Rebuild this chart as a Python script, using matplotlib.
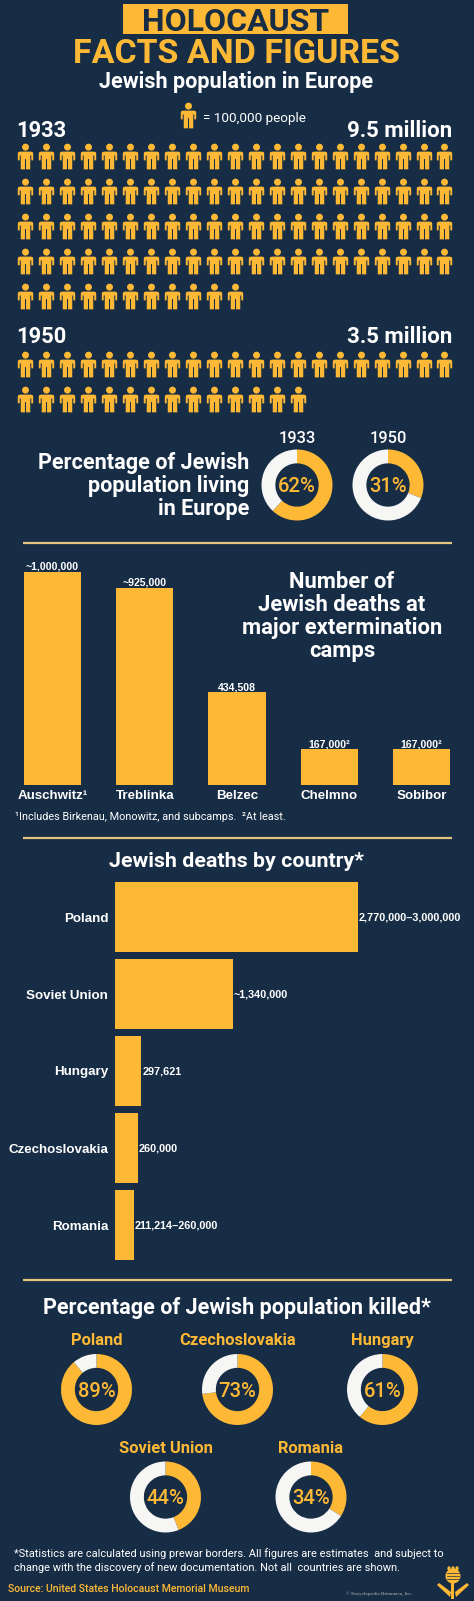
import matplotlib
matplotlib.use('Agg')
import matplotlib.pyplot as plt
from matplotlib.path import Path
from matplotlib.patches import Rectangle, Ellipse, Polygon
import numpy as np

# ---------------- data ----------------
pop_years = ['1933', '1950']
pop_millions = [9.5, 3.5]
pop_labels = ['9.5 million', '3.5 million']
people_per_icon = 100000

share_years = ['1933', '1950']
share_in_europe = [62, 31]

camps = ['Auschwitz¹', 'Treblinka', 'Belzec', 'Chelmno', 'Sobibor']
camp_deaths = [1000000, 925000, 434508, 167000, 167000]
camp_labels = ['~1,000,000', '~925,000', '434,508', '167,000²', '167,000²']

countries = ['Poland', 'Soviet Union', 'Hungary', 'Czechoslovakia', 'Romania']
country_deaths = [2770000, 1340000, 297621, 260000, 211214]
country_labels = ['2,770,000–3,000,000', '~1,340,000', '297,621', '260,000', '211,214–260,000']

killed_countries = ['Poland', 'Czechoslovakia', 'Hungary', 'Soviet Union', 'Romania']
killed_pct = [89, 73, 61, 44, 34]

# ---------------- style ----------------
BG = '#172c45'
YEL = '#fdb935'
WHITE = '#ffffff'
RING_WHITE = '#f6f6f4'
LINE = '#e5c47d'
SANS = ['Roboto', 'DejaVu Sans']
ARIAL = ['Liberation Sans', 'DejaVu Sans']

W, H, DPI = 474, 1601, 100
fig = plt.figure(figsize=(W / DPI, H / DPI), dpi=DPI, facecolor=BG)
ax = fig.add_axes([0, 0, 1, 1])
ax.set_xlim(0, W)
ax.set_ylim(H, 0)
ax.axis('off')


def px_axes(x, y, w, h):
    a = fig.add_axes([x / W, 1 - (y + h) / H, w / W, h / H])
    a.patch.set_alpha(0)
    return a


def txt(x, y, s, size, color=WHITE, weight='bold', ha='center', family=SANS, **kw):
    ax.text(x, y, s, fontsize=size, color=color, fontweight=weight, ha=ha,
            va='baseline', family=family, **kw)


# ---------------- title ----------------
ax.add_patch(Rectangle((123, 4), 225, 29.5, color=YEL, lw=0))
txt(236, 31, 'HOLOCAUST', 23, color=BG)
txt(236.5, 63, 'FACTS AND FIGURES', 24.5, color=YEL)
txt(236.5, 88, 'Jewish population in Europe', 15.6)

# ---------------- person icons ----------------
def person_path():
    head = Path.circle((0, 0.73), 0.27)
    body = [(-0.42, 0.38), (0.42, 0.38), (0.56, 0.34), (0.6, 0.24), (0.6, -0.3),
            (0.45, -0.3), (0.45, 0.08), (0.37, 0.08), (0.37, -1.0), (0.04, -1.0),
            (0.04, -0.2), (-0.04, -0.2), (-0.04, -1.0), (-0.37, -1.0), (-0.37, 0.08),
            (-0.45, 0.08), (-0.45, -0.3), (-0.6, -0.3), (-0.6, 0.24), (-0.56, 0.34),
            (-0.42, 0.38)]
    codes = [Path.MOVETO] + [Path.LINETO] * (len(body) - 2) + [Path.CLOSEPOLY]
    return Path.make_compound_path(head, Path(body, codes))


PERSON = person_path()
PER_ROW = 21
ICON_S = 18.5 ** 2

# legend icon
ax.scatter([188], [114.5], marker=PERSON, s=ICON_S, c=YEL, linewidths=0)
txt(203, 121.5, '= 100,000 people', 9.7, weight='normal', ha='left')

block_top = [156, 364]
label_base = [136.5, 343]
for yr, mil, lab, y0, yb in zip(pop_years, pop_millions, pop_labels, block_top, label_base):
    n = int(round(mil * 1e6 / people_per_icon))
    idx = np.arange(n)
    xs = 25.5 + (idx % PER_ROW) * 20.95
    ys = y0 + (idx // PER_ROW) * 35
    ax.scatter(xs, ys, marker=PERSON, s=ICON_S, c=YEL, linewidths=0)
    txt(16, yb, yr, 15.8, ha='left')
    txt(452, yb, lab, 16, ha='right')

# ---------------- share donuts ----------------
def donut(cx, cy, pct, r=35.5):
    a = px_axes(cx - r, cy - r, 2 * r, 2 * r)
    a.pie([pct, 100 - pct], colors=[YEL, RING_WHITE], startangle=90,
          counterclock=False, radius=1, wedgeprops=dict(width=0.39, linewidth=0))
    a.set_xlim(-1, 1)
    a.set_ylim(-1, 1)
    a.set_aspect('equal')
    a.axis('off')
    txt(cx, cy + 7, f'{pct}%', 14.6, color=YEL, weight='medium')


for yr, pct, cx in zip(share_years, share_in_europe, [297, 388]):
    donut(cx, 485, pct)
    txt(cx, 443, yr, 11.8, weight='medium')

for i, line in enumerate(['Percentage of Jewish', 'population living', 'in Europe']):
    txt(249, 469 + 23 * i, line, 15.6, ha='right')

# dividers
for yline in [543, 838, 1280]:
    ax.plot([23, 452], [yline, yline], color=LINE, lw=1.6, solid_capstyle='butt')

# ---------------- camps bar chart ----------------
spacing = 92.2
bax = px_axes(52.6 - spacing / 2, 560, spacing * 5, 225)
bars = bax.bar(np.arange(len(camps)), camp_deaths, width=0.622, color=YEL, lw=0)
bax.set_xlim(-0.5, 4.5)
bax.set_ylim(0, 1e6 * 225 / 213)
for s in bax.spines.values():
    s.set_visible(False)
bax.set_yticks([])
bax.set_xticks(np.arange(len(camps)))
bax.set_xticklabels(camps, fontsize=9.6, color=WHITE, fontweight='bold', family=ARIAL)
bax.tick_params(axis='x', length=0, pad=3.5)
bax.bar_label(bars, labels=camp_labels, padding=0.3, fontsize=7.6, color=WHITE,
              fontweight='bold', family=ARIAL)

for i, line in enumerate(['Number of', 'Jewish deaths at', 'major extermination', 'camps']):
    txt(342, 587.5 + 23 * i, line, 15.8)

txt(15, 820, '¹Includes Birkenau, Monowitz, and subcamps.  ²At least.', 7.8,
    weight='normal', ha='left')

# ---------------- deaths by country ----------------
txt(237, 866.5, 'Jewish deaths by country*', 15.4)
hax = px_axes(115, 878.5, 359, 385)
hb = hax.barh(np.arange(len(countries)), country_deaths, height=0.91, color=YEL, lw=0)
hax.set_xlim(0, 2770000 * 359 / 243)
hax.set_ylim(4.5, -0.5)
for s in hax.spines.values():
    s.set_visible(False)
hax.set_xticks([])
hax.set_yticks(np.arange(len(countries)))
hax.set_yticklabels(countries, fontsize=9.6, color=WHITE, fontweight='bold', family=ARIAL)
hax.tick_params(axis='y', length=0, pad=4.8)
hax.bar_label(hb, labels=country_labels, padding=0.8, fontsize=7.8, color=WHITE,
              fontweight='bold', family=ARIAL)

# ---------------- percentage killed ----------------
txt(237, 1314, 'Percentage of Jewish population killed*', 15.6)
kill_pos = [(96.5, 1389.5), (237.5, 1389.5), (382.5, 1389.5), (165.5, 1497), (311, 1497)]
for name, pct, (cx, cy) in zip(killed_countries, killed_pct, kill_pos):
    donut(cx, cy, pct)
    txt(cx, cy - 44.5, name, 11.9, color=YEL)

# ---------------- footer ----------------
txt(14, 1556.5, '*Statistics are calculated using prewar borders. All figures are estimates  and subject to',
    7.9, weight='normal', ha='left')
txt(14, 1571, 'change with the discovery of new documentation. Not all  countries are shown.',
    7.9, weight='normal', ha='left')
txt(8, 1591.5, 'Source: United States Holocaust Memorial Museum', 7.6, color=YEL,
    weight='medium', ha='left')
ax.text(346, 1595, '© Encyclopædia Britannica, Inc.', fontsize=3.6, color='#b8b8b8',
        family=['Liberation Serif', 'DejaVu Serif'], ha='left', va='baseline')

# logo (stylised thistle)
ax.add_patch(Ellipse((453, 1576), 15, 15, color=YEL, lw=0))
for dx in (-4, 0, 4):
    ax.add_patch(Ellipse((453 + dx, 1568.5), 3.2, 4.5, color=YEL, lw=0))
for k in range(3):
    ax.plot([447, 459], [1573 + 3 * k, 1573 + 3 * k], color=BG, lw=0.5)
ax.add_patch(Rectangle((451.5, 1583), 3, 16, color=YEL, lw=0))
ax.add_patch(Polygon([(450, 1597), (437, 1585), (439, 1583), (451, 1592)], color=YEL, lw=0))
ax.add_patch(Polygon([(456, 1597), (469, 1585), (467, 1583), (455, 1592)], color=YEL, lw=0))

fig.savefig('out.png', dpi=DPI, facecolor=BG)
